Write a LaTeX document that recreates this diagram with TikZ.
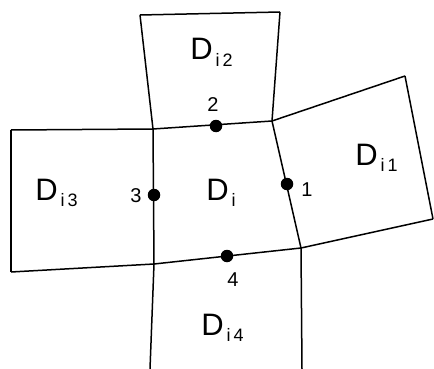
\documentclass[tikz,border=0pt]{standalone}
\usepackage{fontspec}
\setmainfont{Liberation Sans}
\usepackage{tikz}
\usetikzlibrary{positioning}
\newcommand{\cellname}[1]{D\hspace{3pt}\raisebox{-6pt}{\fontsize{18}{18}\selectfont #1}}

\begin{document}
\begin{tikzpicture}[x=1pt,y=-1pt,line width=1.5pt,
  edge/.style={draw=black,line join=miter},
  dot/.style={circle,fill=black,inner sep=0pt,minimum size=12.5pt},
  cell/.style={font=\fontsize{31}{31}\selectfont,inner sep=0pt,anchor=base west},
  num/.style={font=\fontsize{20}{20}\selectfont,inner sep=0pt}]
  \useasboundingbox (0,0) rectangle (434,369);
  % corners of the cells
  \coordinate (a) at (140,15);
  \coordinate (b) at (280,12);
  \coordinate (c) at (153,129);
  \coordinate (d) at (272,121);
  \coordinate (e) at (301,248);
  \coordinate (f) at (154,264);
  \coordinate (g) at (11,130);
  \coordinate (h) at (11,272);
  \coordinate (k) at (405,76);
  \coordinate (l) at (433,219);
  \coordinate (m) at (150,369);
  \coordinate (n) at (302,369);
  % cell boundaries
  \draw[edge] (g) -- (c) -- (d) -- (k);
  \draw[edge] (h) -- (f) -- (e) -- (l);
  \draw[edge] (a) -- (c) -- (f) -- (m);
  \draw[edge] (b) -- (d) -- (e) -- (n);
  \draw[edge] (a) -- (b);
  \draw[edge] (g) -- (h);
  \draw[edge] (k) -- (l);
  % interface points
  \node[dot] (p1) at (287,184) {};
  \node[dot] (p2) at (216,126) {};
  \node[dot] (p3) at (154,195) {};
  \node[dot] (p4) at (227,256) {};
  \node[num] (n1) at (307,190) {1};
  \node[num] (n2) at (213,105) {2};
  \node[num] (n3) at (136,196) {3};
  \node[num] (n4) at (233,280) {4};
  % cell names
  \node[cell] (di)  at (205.5,200) {\cellname{i}};
  \node[cell] (di1) at (354.5,165) {\cellname{i\hspace{3pt}1}};
  \node[cell] (di2) at (189.5,60)  {\cellname{i\hspace{3pt}2}};
  \node[cell] (di3) at (34.5,200)  {\cellname{i\hspace{3pt}3}};
  \node[cell] (di4) at (200.5,335) {\cellname{i\hspace{3pt}4}};
\end{tikzpicture}
\end{document}
